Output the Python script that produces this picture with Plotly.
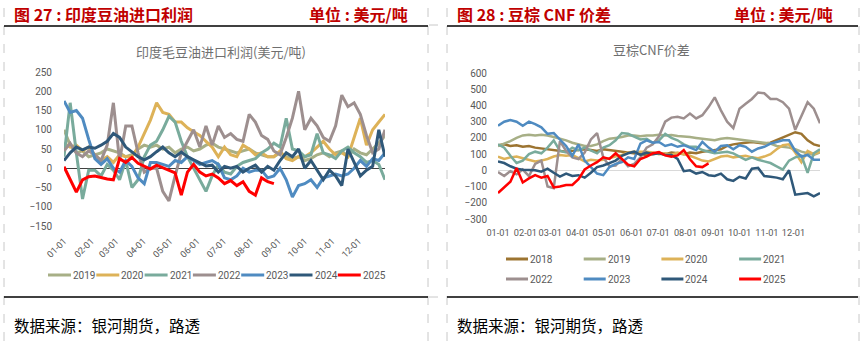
import pandas as pd
import plotly.graph_objects as go

W, H = 862, 341
BASE_YEAR = 2001
FONT = "Noto Sans CJK SC"
NUM_FONT = "Roboto, Noto Sans CJK SC"

MONTH_LABELS = ["01-01", "02-01", "03-01", "04-01", "05-01", "06-01",
                "07-01", "08-01", "09-01", "10-01", "11-01", "12-01"]

LEFT_YEARS = ["2019", "2020", "2021", "2022", "2023", "2024", "2025"]
RIGHT_YEARS = ["2018", "2019", "2020", "2021", "2022", "2023", "2024", "2025"]

COLORS = {"2018": "#9C7431", "2019": "#A7AF86", "2020": "#DDB258", "2021": "#79AB9C",
          "2022": "#9D8F8F", "2023": "#4F8BC1", "2024": "#2F5879", "2025": "#FF0000"}

# ---- Left: India crude soyoil import profit (USD/t), weekly samples from 01-01 ----
india_2019 = [100, 60, 40, 45, 30, 35, 40, 50, 45, 40, 30, 35, 50, 60, 55, 60, 50, 55, 40, 50,
              55, 45, 50, 60, 65, 55, 50, 45, 40, 45, 50, 40, 35, 30, 30, 40, 30, 25, 30, 20,
              25, 35, 40, 30, 40, 45, 30, 50, 40, 35, 50, 65, 85]
india_2020 = [65, 55, 60, 45, 55, 35, 20, 30, 15, 35, 30, 30, 55, 90, 125, 170, 145, 140, 120, 120,
              105, 95, 85, 70, 55, 30, 55, 35, 30, 60, 50, 35, 40, 30, 30, 45, 25, 20, 30, 30,
              40, 55, 70, 50, 35, 40, 30, 80, 130, 60, 100, 120, 140]
india_2021 = [30, 170, 40, -80, -5, -5, -20, 10, -5, -30, 20, -50, -30, 30, 60, 70, 100, 135, 120, 70,
              30, 0, -30, -60, -20, 10, -10, -15, 5, 15, 20, 25, 40, 50, 65, 55, 130, 50, 45, 30,
              35, 90, 40, 35, 25, 45, 55, 40, 30, 15, 20, 10, -30]
india_2022 = [45, 65, 40, 30, 45, 35, 20, 60, 170, 20, 110, 110, 40, -10, 0, 0, -60, -85, -20, 40,
              70, 100, 55, 110, 60, 110, 80, 90, 75, 70, 140, 120, 85, 75, 45, 35, 80, 130, 200, 100,
              130, 110, 80, 70, 110, 190, 160, 170, 140, 85, 40, 50, 100]
india_2023 = [175, 145, 150, 130, 75, 25, 10, 25, 0, -10, 20, 5, -25, -40, 15, 15, 10, 5, 20, 15,
              30, 20, 10, 15, 20, 10, -25, -30, -20, 0, -10, -5, -5, -25, -20, 0, -30, -75, -45, -40,
              -30, -50, -25, -20, -15, -20, -15, 0, 20, 5, 25, 20, 40]
india_2024 = [20, 40, 55, 48, 55, 52, 60, 70, 90, 80, 55, 43, 30, 22, 30, 43, 55, 40, 30, 42,
              30, 22, 14, 6, 8, -10, 5, 0, 5, -10, 0, 8, -10, 5, -5, 20, 40, 30, 50, 0,
              20, -5, -30, -5, -20, -45, 50, 15, -20, -5, 5, 100, 30]
india_2025 = [4, -30, -62, -30, -22, -20, -25, -28, -30, 25, 15, 28, 13, 6, -2, 8, 2, -4, -12, -70,
              -10, 10, -10, -20, -15, -25, -40, -32, -45, -35, -60, -70, -25, -35, -40]

# ---- Right: soy-palm CNF spread (USD/t), weekly samples from 01-01 ----
spread_2018 = [155, 160, 150, 155, 145, 150, 140, 135, 130, 125, 120, 115, 120, 125, 130, 125, 120, 130, 125, 120,
               115, 110, 105, 100, 95, 100, 105, 100, 110, 105, 100, 110, 105, 115, 120, 125, 130, 150, 160, 165,
               170, 175, 170, 165, 170, 185, 205, 220, 235, 225, 185, 160, 150]
spread_2019 = [150, 165, 180, 200, 215, 220, 215, 220, 215, 205, 195, 185, 170, 160, 150, 150, 160, 180, 195, 200,
               205, 215, 215, 210, 215, 215, 220, 215, 218, 212, 210, 205, 200, 195, 190, 185, 195, 200, 195, 190,
               185, 180, 175, 170, 165, 150, 145, 140, 130, 115, 105, 95, 110]
spread_2020 = [85, 70, 80, 85, 75, 65, 55, 60, 70, 85, 95, 90, 95, 75, 55, 65, 60, 65, 75, 85,
               95, 110, 115, 115, 115, 110, 100, 105, 95, 110, 100, 90, 75, 60, 55, 70, 85, 90, 80, 85,
               90, 80, 75, 85, 100, 130, 155, 160, 110, 50, 120, 100, 115]
spread_2021 = [160, 140, 90, 45, 60, 100, 115, 105, 140, 185, 120, 110, 140, 125, 140, 125, 105, 140, 155, 185,
               230, 225, 205, 190, 195, 170, 185, 225, 200, 185, 160, 145, 145, 125, 115, 105, 110, 115, 105, 85,
               65, 80, 65, 55, 45, 25, 5, 60, 80, 90, -15, 105, 130]
spread_2022 = [-10, -35, -5, -25, 5, -35, 40, 60, -100, -110, 180, 120, 80, 70, 110, 190, 230, 80, 25, 30,
               70, 25, 40, 80, 140, 160, 210, 300, 325, 330, 320, 350, 320, 340, 390, 450, 370, 300, 260, 380,
               410, 440, 480, 475, 440, 440, 420, 380, 250, 330, 420, 380, 290]
spread_2023 = [275, 300, 310, 300, 275, 300, 285, 265, 225, 230, 190, 150, 90, 160, 60, 20, -20, -30, 20, 40,
               50, 80, 70, 165, 185, 170, 175, 150, 160, 145, 155, 140, 125, 175, 140, 115, 150, 155, 130, 155,
               145, 115, 135, 145, 165, 175, 185, 185, 120, 85, 95, 65, 65]
spread_2024 = [55, 45, 25, 10, 3, 3, 0, -8, 10, -15, -39, -20, -35, -30, -45, -15, 20, 30, 45, 60,
               90, 105, 115, 95, 110, 100, 105, 95, 95, 70, -5, 0, -20, -10, -30, -35, -20, -55, -65, -40,
               -50, 10, 15, -35, -40, -45, -55, 0, -150, -145, -140, -160, -140]
spread_2025 = [-140, -105, -70, 15, -75, -50, -30, -45, -35, -105, -100, -90, -90, -55, 5, 30, 50, 80, 70, 105,
               70, 35, 25, 70, 85, 105, 112, 92, 84, 92, 125, 68, 25, 20, 43]

left_series = [india_2019, india_2020, india_2021, india_2022, india_2023, india_2024, india_2025]
right_series = [spread_2018, spread_2019, spread_2020, spread_2021, spread_2022, spread_2023,
                spread_2024, spread_2025]


def px(x):
    return x / W


def py(y):
    return 1 - y / H


def weekly_dates(n):
    return pd.date_range(f"{BASE_YEAR}-01-01", periods=n, freq="7D")


month_ticks = pd.date_range(f"{BASE_YEAR}-01-01", periods=12, freq="MS")
x_range = [f"{BASE_YEAR}-01-01", f"{BASE_YEAR}-12-31"]

fig = go.Figure()
for yr, vals in zip(LEFT_YEARS, left_series):
    fig.add_trace(go.Scatter(x=weekly_dates(len(vals)), y=vals, mode="lines", name=yr,
                             line=dict(color=COLORS[yr], width=3), xaxis="x", yaxis="y",
                             showlegend=False))
for yr, vals in zip(RIGHT_YEARS, right_series):
    fig.add_trace(go.Scatter(x=weekly_dates(len(vals)), y=vals, mode="lines", name=yr,
                             line=dict(color=COLORS[yr], width=2.5), xaxis="x2", yaxis="y2",
                             showlegend=False))

tick_font = dict(family=NUM_FONT, size=10, color="#595959")
xtick_font = dict(family=NUM_FONT, size=9.2, color="#595959")
axis_common = dict(showgrid=False, showline=False, ticks="", fixedrange=True, automargin=False)

fig.update_layout(
    width=W, height=H, margin=dict(l=0, r=0, t=0, b=0, autoexpand=False),
    paper_bgcolor="white", plot_bgcolor="white", showlegend=False,
    font=dict(family=FONT),
    xaxis=dict(domain=[px(64), px(385)], range=x_range, type="date", anchor="y",
               tickvals=list(month_ticks), ticktext=MONTH_LABELS, tickangle=-45,
               tickfont=xtick_font, zeroline=False, ticklabelstandoff=7, **axis_common),
    yaxis=dict(domain=[py(226), py(72)], range=[-150, 250], dtick=50, tick0=0, anchor="x",
               tickfont=tick_font, zeroline=True, zerolinecolor="#404040", zerolinewidth=1,
               ticklabelstandoff=11, **axis_common),
    xaxis2=dict(domain=[px(498), px(820)], range=x_range, type="date", anchor="y2",
                tickvals=list(month_ticks), ticktext=MONTH_LABELS, tickangle=0,
                tickfont=xtick_font, zeroline=False, ticklabelstandoff=7, **axis_common),
    yaxis2=dict(domain=[py(219), py(73)], range=[-300, 600], dtick=100, tick0=0, anchor="x2",
                tickfont=tick_font, zeroline=True, zerolinecolor="#D9D9D9", zerolinewidth=1,
                ticklabelstandoff=10, **axis_common),
)

shapes = []
# dashed table borders
for x in [4, 428, 447, 859]:
    shapes.append(dict(type="line", xref="paper", yref="paper", x0=px(x), x1=px(x), y0=0, y1=1,
                       line=dict(color="#C8C8C8", width=1, dash="dash")))
for y in [25, 297]:
    shapes.append(dict(type="line", xref="paper", yref="paper", x0=px(429), x1=px(447), y0=py(y), y1=py(y),
                       line=dict(color="#C8C8C8", width=1, dash="dash")))
# solid black rules
for (a, b) in [(4, 428), (447, 858)]:
    for y in [26, 297]:
        shapes.append(dict(type="line", xref="paper", yref="paper", x0=px(a), x1=px(b), y0=py(y), y1=py(y),
                           line=dict(color="black", width=1.5)))

annotations = []


def text(x, y, s, size, color, xanchor="left", bold=False, family=FONT):
    annotations.append(dict(x=px(x), y=py(y), xref="paper", yref="paper", text=s, showarrow=False,
                            xanchor=xanchor, yanchor="middle",
                            font=dict(family=family, size=size, color=color, weight=700 if bold else 400)))


RED = "#C00000"
text(12, 14, "图 27 : 印度豆油进口利润", 16, RED, bold=True)
text(410, 14, "单位 : 美元/吨", 16, RED, xanchor="right", bold=True)
text(455, 14, "图 28 : 豆棕 CNF 价差", 16, RED, bold=True)
text(835, 14, "单位 : 美元/吨", 16, RED, xanchor="right", bold=True)
text(221, 52, "印度毛豆油进口利润(美元/吨)", 13, "#6F6F6F", xanchor="center")
text(651, 50, "豆棕CNF价差", 13, "#6F6F6F", xanchor="center")
text(12, 325, "数据来源：银河期货，路透", 15.5, "black")
text(455, 325, "数据来源：银河期货，路透", 15.5, "black")

# legends (line sample + label)
for i, yr in enumerate(LEFT_YEARS):
    x0 = 48 + 48.3 * i
    shapes.append(dict(type="line", xref="paper", yref="paper", x0=px(x0), x1=px(x0 + 23),
                       y0=py(275), y1=py(275), line=dict(color=COLORS[yr], width=3)))
    text(x0 + 23, 275, yr, 10, "#595959", family=NUM_FONT)
for i, yr in enumerate(RIGHT_YEARS):
    row, col = divmod(i, 4)
    x0 = 506 + 77.7 * col
    y0 = 259 + 20 * row
    shapes.append(dict(type="line", xref="paper", yref="paper", x0=px(x0), x1=px(x0 + 22),
                       y0=py(y0), y1=py(y0), line=dict(color=COLORS[yr], width=3)))
    text(x0 + 22, y0, yr, 10, "#595959", family=NUM_FONT)

fig.update_layout(shapes=shapes, annotations=annotations)
fig.write_html("out.html")
